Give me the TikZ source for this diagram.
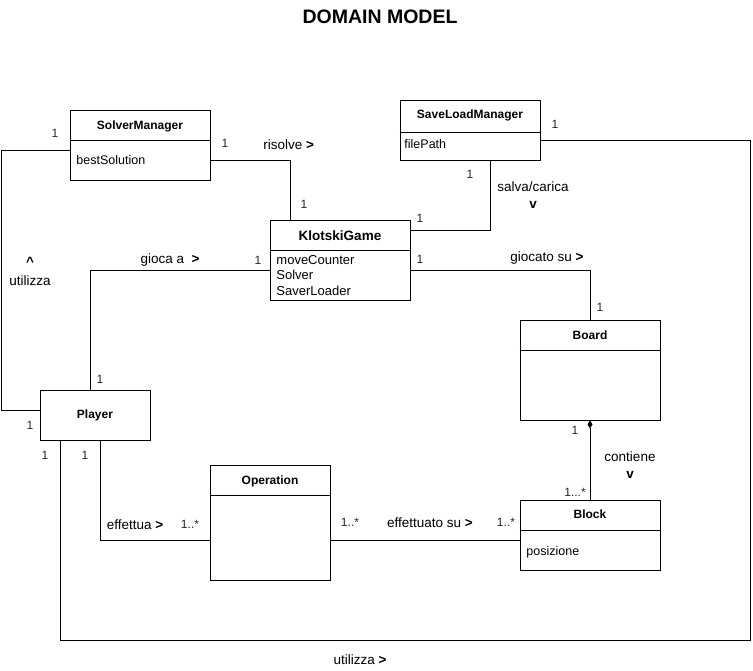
\documentclass[tikz,border=0pt]{standalone}
\usepackage{fontspec}
\setmainfont{Liberation Sans}
\usetikzlibrary{arrows.meta}
\begin{document}
\begin{tikzpicture}[x=1pt,y=-1pt,line width=0.9pt,
  cls/.style={draw,rectangle,inner sep=0pt,line width=0.9pt},
  ttl/.style={font=\fontsize{12}{14}\selectfont\bfseries,inner sep=0pt,anchor=base},
  attr/.style={font=\fontsize{12.5}{15}\selectfont,inner sep=0pt,anchor=base west},
  lbl/.style={font=\fontsize{13.5}{16}\selectfont,inner sep=0pt},
  mult/.style={font=\fontsize{12}{14}\selectfont,inner sep=0pt,text=black!85},
  conn/.style={draw,line width=0.9pt}]
\useasboundingbox (0,0) rectangle (753,671);

% title
\node[font=\fontsize{19.5}{23}\selectfont\bfseries,inner sep=0pt] (title) at (380,17) {DOMAIN MODEL};

% classes
\node[cls,minimum width=140pt,minimum height=70pt] (sm) at (140,145) {};
\draw (sm.west |- 0,140) -- (sm.east |- 0,140);
\node[ttl] (smt) at (140,129.5) {SolverManager};
\node[attr] (sma) at (76,165) {bestSolution};

\node[cls,minimum width=140pt,minimum height=60pt] (sl) at (470,130) {};
\draw (sl.west |- 0,132) -- (sl.east |- 0,132);
\node[ttl] (slt) at (470,119) {SaveLoadManager};
\node[attr] (sla) at (404,148.5) {filePath};

\node[cls,minimum width=140pt,minimum height=80pt] (kg) at (340,260) {};
\draw (kg.west |- 0,250) -- (kg.east |- 0,250);
\node[ttl,font=\fontsize{13.5}{16}\selectfont\bfseries] (kgt) at (340,241) {KlotskiGame};
\node[attr,font=\fontsize{13}{15}\selectfont] (kga1) at (276,265) {moveCounter};
\node[attr,font=\fontsize{13}{15}\selectfont] (kga2) at (276,280) {Solver};
\node[attr,font=\fontsize{13}{15}\selectfont] (kga3) at (276,295.5) {SaverLoader};

\node[cls,minimum width=140pt,minimum height=100pt] (bd) at (590,370) {};
\draw (bd.west |- 0,350) -- (bd.east |- 0,350);
\node[ttl] (bdt) at (590,340) {Board};

\node[cls,minimum width=110pt,minimum height=50pt] (pl) at (95,415) {};
\node[ttl] (plt) at (95,418.5) {Player};

\node[cls,minimum width=120pt,minimum height=115pt] (op) at (270,522.5) {};
\draw (op.west |- 0,495) -- (op.east |- 0,495);
\node[ttl] (opt) at (270,484) {Operation};

\node[cls,minimum width=140pt,minimum height=70pt] (bk) at (590,535) {};
\draw (bk.west |- 0,530) -- (bk.east |- 0,530);
\node[ttl] (bkt) at (590,518.5) {Block};
\node[attr] (bka) at (526,555) {posizione};

% connectors
\draw[conn] (sm.east |- 0,160) -| (kg.north -| 290,0);
\draw[conn] (sl.south -| 490,0) |- (kg.east |- 0,230);
\draw[conn] (kg.west |- 0,270) -| (pl.north -| 90,0);
\draw[conn] (kg.east |- 0,270) -| (bd.north);
\draw[conn] (sm.west |- 0,150) -- (1,150) |- (pl.west |- 0,410);
\coordinate (c1) at (750,140);
\coordinate (c2) at (750,640);
\coordinate (c3) at (60,640);
\draw[conn] (sl.east |- 0,140) -- (c1) -- (c2) -- (c3) -- (pl.south -| c3);
\draw[conn] (pl.south -| 100,0) |- (op.west |- 0,540);
\draw[conn] (op.east |- 0,540) -- (bk.west |- 0,540);
\draw[conn,{Diamond[fill=black,length=8pt,width=5pt]}-] (bd.south) -- (bk.north);

% labels
\node[mult] (m1) at (55,133) {1};
\node[mult] (m2) at (225,143) {1};
\node[lbl,anchor=base west] (l1) at (263,149.5) {risolve \textbf{>}};
\node[mult] (m3) at (304,204) {1};
\node[lbl] (l2) at (30,262) {\textbf{\^{}}};
\node[lbl] (l3) at (30,281) {utilizza};
\node[lbl] (l4) at (170,260) {gioca a\ \ \textbf{>}};
\node[mult] (m4) at (258,260) {1};
\node[mult] (m5) at (100,379) {1};
\node[mult] (m6) at (470,174) {1};
\node[lbl] (l5) at (533,187) {salva/carica};
\node[lbl] (l6) at (533,205) {\textbf{v}};
\node[mult] (m7) at (420,218) {1};
\node[mult] (m8) at (420,259) {1};
\node[lbl] (l7) at (547,258) {giocato su \textbf{>}};
\node[mult] (m9) at (600,307) {1};
\node[mult] (m10) at (555,124) {1};
\node[mult] (m11) at (30,425) {1};
\node[mult] (m12) at (45,455) {1};
\node[mult] (m13) at (85,455) {1};
\node[lbl] (l8) at (135,525) {effettua \textbf{>}};
\node[mult] (m14) at (190,524) {1..*};
\node[mult] (m15) at (350,522) {1..*};
\node[lbl] (l9) at (430,523) {effettuato su \textbf{>}};
\node[mult] (m16) at (506,522) {1..*};
\node[mult] (m17) at (575,430) {1};
\node[lbl] (l10) at (630,457) {contiene};
\node[lbl] (l11) at (630,475) {\textbf{v}};
\node[mult] (m18) at (575,492) {1...*};
\node[lbl] (l12) at (360,660) {utilizza \textbf{>}};
\end{tikzpicture}
\end{document}
